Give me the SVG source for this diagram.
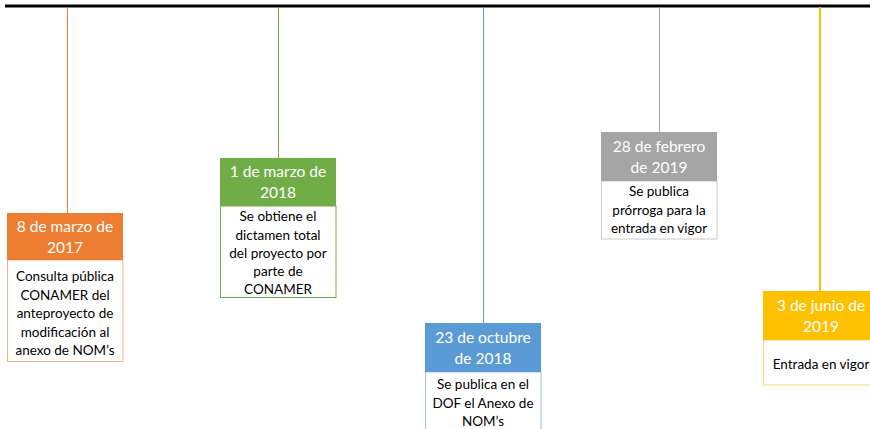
<svg xmlns="http://www.w3.org/2000/svg" width="870" height="429" viewBox="0 0 870 429">
<style>
.hd{font-family:Lato,"Open Sans","Liberation Sans",sans-serif;font-size:15.5px;fill:#fff;text-anchor:middle}
.bd{font-family:Lato,"Open Sans","Liberation Sans",sans-serif;font-size:13.5px;fill:#000;text-anchor:middle}
.body{fill:#fff;stroke-width:1}
</style>
<rect width="870" height="429" fill="#fff"/>
<g id="connectors">
<line x1="5" y1="6" x2="870" y2="6" stroke="#000" stroke-width="3"/>
<line x1="67.5" y1="7" x2="67.5" y2="213" stroke="#ED7D31" stroke-width="1"/>
<line x1="278.5" y1="7" x2="278.5" y2="158" stroke="#70AD47" stroke-width="1"/>
<line x1="483.5" y1="7" x2="483.5" y2="323" stroke="#5B9BD5" stroke-width="1"/>
<line x1="659.5" y1="7" x2="659.5" y2="132" stroke="#A5A5A5" stroke-width="1"/>
<line x1="820" y1="7" x2="820" y2="291" stroke="#FFC000" stroke-width="2"/>
</g>
<g id="n1">
<rect class="body" x="7.5" y="260" width="115.5" height="101.5" stroke="#F4B183"/>
<rect x="7" y="213" width="116" height="47" fill="#ED7D31"/>
<text class="hd" x="65" y="232">8 de marzo de</text>
<text class="hd" x="65" y="253">2017</text>
<text class="bd" x="65" y="281">Consulta pública</text>
<text class="bd" x="65" y="299.5">CONAMER del</text>
<text class="bd" x="65" y="318">anteproyecto de</text>
<text class="bd" x="65" y="336.5">modificación al</text>
<text class="bd" x="65" y="355">anexo de NOM’s</text>
</g>
<g id="n2">
<rect class="body" x="220.5" y="206" width="115.5" height="91.5" stroke="#70AD47"/>
<rect x="220" y="158" width="116" height="48" fill="#70AD47"/>
<text class="hd" x="278" y="177">1 de marzo de</text>
<text class="hd" x="278" y="198">2018</text>
<text class="bd" x="278" y="221">Se obtiene el</text>
<text class="bd" x="278" y="239.5">dictamen total</text>
<text class="bd" x="278" y="258">del proyecto por</text>
<text class="bd" x="278" y="276">parte de</text>
<text class="bd" x="278" y="294">CONAMER</text>
</g>
<g id="n3">
<rect class="body" x="425.5" y="372" width="115.5" height="70" stroke="#9DC3E6"/>
<rect x="425" y="323" width="116" height="49" fill="#5B9BD5"/>
<text class="hd" x="483" y="343">23 de octubre</text>
<text class="hd" x="483" y="364">de 2018</text>
<text class="bd" x="483" y="389">Se publica en el</text>
<text class="bd" x="483" y="408">DOF el Anexo de</text>
<text class="bd" x="483" y="426">NOM’s</text>
</g>
<g id="n4">
<rect class="body" x="601.5" y="181" width="115.5" height="58" stroke="#C9C9C9"/>
<rect x="601" y="132" width="116" height="49" fill="#A5A5A5"/>
<text class="hd" x="659" y="152">28 de febrero</text>
<text class="hd" x="659" y="173">de 2019</text>
<text class="bd" x="659" y="196">Se publica</text>
<text class="bd" x="659" y="215">prórroga para la</text>
<text class="bd" x="659" y="233">entrada en vigor</text>
</g>
<g id="n5">
<rect class="body" x="763.5" y="340" width="115.5" height="45" stroke="#FFD966"/>
<rect x="763" y="291" width="116" height="49" fill="#FFC000"/>
<text class="hd" x="821" y="311">3 de junio de</text>
<text class="hd" x="821" y="332">2019</text>
<text class="bd" x="821" y="369">Entrada en vigor</text>
</g>
</svg>
